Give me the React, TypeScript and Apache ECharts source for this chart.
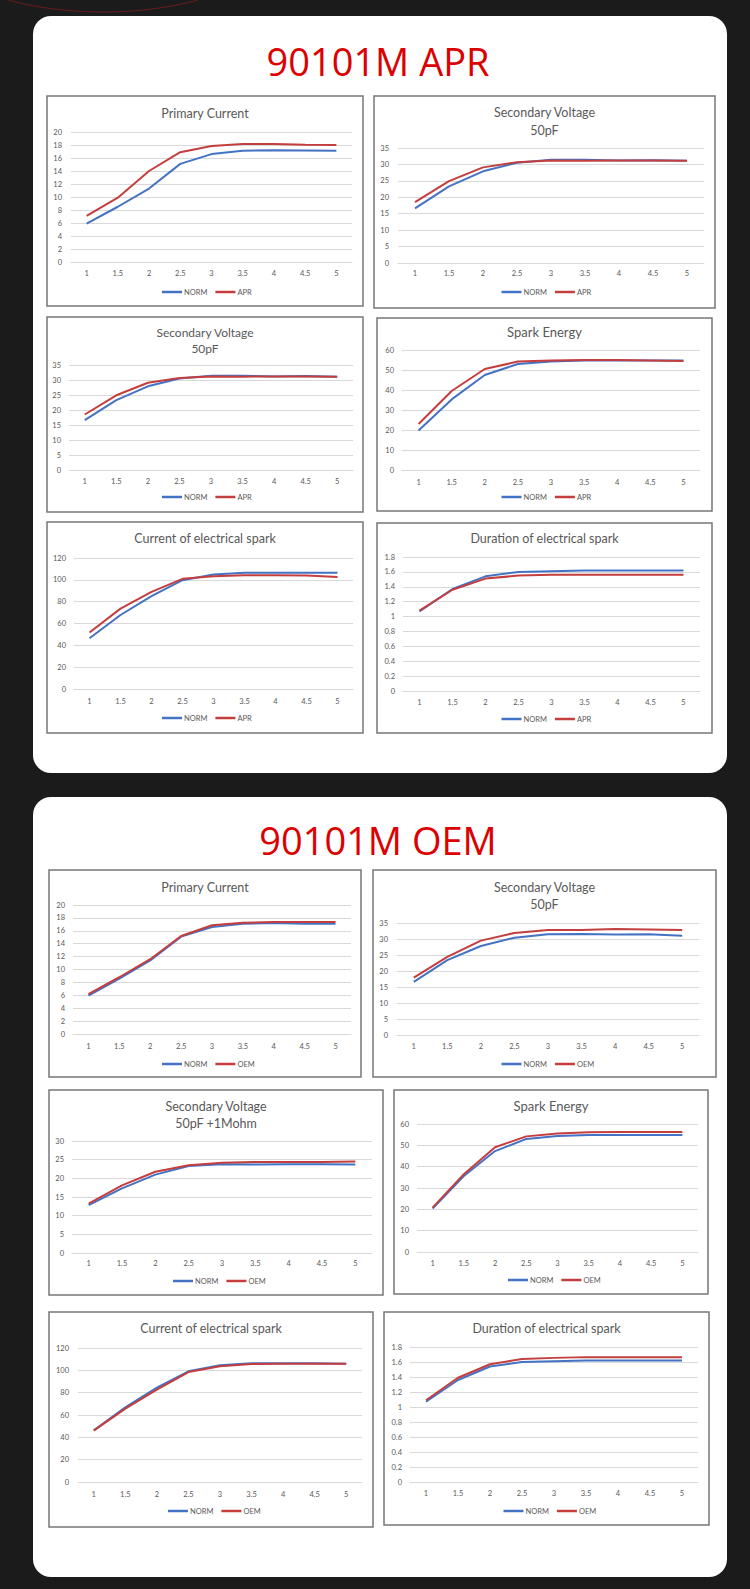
import React, { useEffect, useRef } from 'react';
import * as echarts from 'echarts';

// ---------- data ----------
const xCategories = ['1', '1.5', '2', '2.5', '3', '3.5', '4', '4.5', '5'];

const aprPrimaryNorm = [5.9, 8.5, 11.3, 15.1, 16.6, 17.1, 17.2, 17.15, 17.1];
const aprPrimaryApr = [7.1, 9.9, 14.0, 16.9, 17.85, 18.15, 18.15, 18.05, 18.0];
const aprSecVNorm = [16.6, 23.3, 27.9, 30.5, 31.4, 31.4, 31.2, 31.3, 31.1];
const aprSecVApr = [18.5, 24.9, 29.1, 30.7, 31.2, 31.1, 31.2, 31.2, 31.1];
const aprSparkNorm = [19.8, 35.3, 47.5, 53.0, 54.3, 54.7, 54.8, 54.8, 54.8];
const aprSparkApr = [23.0, 39.5, 50.5, 54.2, 54.8, 55.0, 55.0, 54.8, 54.5];
const aprCurrentNorm = [46.5, 67.8, 85.1, 99.7, 104.8, 106.6, 106.6, 106.6, 106.4];
const aprCurrentApr = [51.7, 73.6, 89.0, 100.9, 103.3, 104.3, 104.3, 104.0, 102.7];
const aprDurationNorm = [1.07, 1.37, 1.54, 1.6, 1.61, 1.62, 1.62, 1.62, 1.62];
const aprDurationApr = [1.08, 1.36, 1.51, 1.55, 1.56, 1.56, 1.56, 1.56, 1.56];

const oemPrimaryNorm = [5.95, 8.6, 11.4, 15.1, 16.6, 17.1, 17.2, 17.1, 17.1];
const oemPrimaryOem = [6.2, 8.8, 11.6, 15.2, 16.85, 17.25, 17.35, 17.35, 17.35];
const oemSecVNorm = [16.6, 23.4, 27.8, 30.4, 31.5, 31.6, 31.4, 31.5, 31.0];
const oemSecVOem = [17.9, 24.4, 29.5, 31.9, 32.8, 32.8, 33.1, 33.0, 32.8];
const oemSecVRNorm = [12.8, 17.3, 21.0, 23.3, 23.8, 23.7, 23.8, 23.8, 23.7];
const oemSecVROem = [13.25, 18.1, 21.75, 23.5, 24.2, 24.4, 24.4, 24.4, 24.5];
const oemSparkNorm = [20.4, 35.6, 47.3, 53.0, 54.4, 54.9, 54.9, 54.9, 54.9];
const oemSparkOem = [20.8, 36.5, 49.1, 54.2, 55.6, 56.1, 56.3, 56.3, 56.3];
const oemCurrentNorm = [46.3, 66.9, 84.5, 99.1, 104.5, 106.3, 106.3, 106.3, 106.0];
const oemCurrentOem = [46.0, 65.7, 82.7, 98.5, 103.6, 105.7, 106.0, 106.0, 106.0];
const oemDurationNorm = [1.07, 1.36, 1.54, 1.6, 1.61, 1.62, 1.62, 1.62, 1.62];
const oemDurationOem = [1.09, 1.39, 1.57, 1.64, 1.655, 1.665, 1.665, 1.665, 1.665];

const panelTitles = ['90101M APR', '90101M OEM'];
const seriesNamesApr = ['NORM', 'APR'];
const seriesNamesOem = ['NORM', 'OEM'];

// y-axis scales [max, interval]
const yScalePrimary = [20, 2];
const yScaleSecV = [35, 5];
const yScaleSecVR = [30, 5];
const yScaleSpark = [60, 10];
const yScaleCurrent = [120, 20];
const yScaleDuration = [1.8, 0.2];

// ---------- layout ----------
const BLUE = '#4472C4';
const RED = '#C43E3E';
const GRAY_TXT = '#595959';
const GRID_LINE = '#d9d9d9';
const FONT = 'Lato, "Open Sans", sans-serif';

type ChartDef = {
  box: number[];
  titles: string[];
  titleYs: number[];
  titleSize?: number;
  grid: number[]; // l t r b
  labelRight: number;
  xLabelY: number;
  legendY: number;
  scale: number[];
  names: string[];
  a: number[];
  b: number[];
};

const charts: ChartDef[] = [
  { box: [47, 96, 363, 306], titles: ['Primary Current'], titleYs: [113], grid: [71, 132, 352, 262], labelRight: 62, xLabelY: 273, legendY: 293, scale: yScalePrimary, names: seriesNamesApr, a: aprPrimaryNorm, b: aprPrimaryApr },
  { box: [374, 96, 715, 308], titles: ['Secondary Voltage', '50pF'], titleYs: [112, 130], grid: [398, 148, 704, 263], labelRight: 389, xLabelY: 273, legendY: 293, scale: yScaleSecV, names: seriesNamesApr, a: aprSecVNorm, b: aprSecVApr },
  { box: [47, 317, 363, 512], titles: ['Secondary Voltage', '50pF'], titleYs: [332, 348], titleSize: 12, grid: [69, 365, 353, 470], labelRight: 61, xLabelY: 481, legendY: 498, scale: yScaleSecV, names: seriesNamesApr, a: aprSecVNorm, b: aprSecVApr },
  { box: [377, 318, 712, 511], titles: ['Spark Energy'], titleYs: [332], titleSize: 13, grid: [402, 350, 700, 470], labelRight: 394, xLabelY: 482, legendY: 498, scale: yScaleSpark, names: seriesNamesApr, a: aprSparkNorm, b: aprSparkApr },
  { box: [47, 522, 363, 733], titles: ['Current of electrical spark'], titleYs: [538], grid: [74, 558, 353, 689], labelRight: 66, xLabelY: 701, legendY: 719, scale: yScaleCurrent, names: seriesNamesApr, a: aprCurrentNorm, b: aprCurrentApr },
  { box: [377, 523, 712, 733], titles: ['Duration of electrical spark'], titleYs: [538], grid: [403, 557, 700, 691], labelRight: 395, xLabelY: 702, legendY: 720, scale: yScaleDuration, names: seriesNamesApr, a: aprDurationNorm, b: aprDurationApr },
  { box: [49, 870, 361, 1077], titles: ['Primary Current'], titleYs: [887], grid: [73, 905, 351, 1034], labelRight: 65, xLabelY: 1046, legendY: 1065, scale: yScalePrimary, names: seriesNamesOem, a: oemPrimaryNorm, b: oemPrimaryOem },
  { box: [373, 870, 716, 1077], titles: ['Secondary Voltage', '50pF'], titleYs: [887, 904], grid: [397, 923, 699, 1035], labelRight: 388, xLabelY: 1046, legendY: 1065, scale: yScaleSecV, names: seriesNamesOem, a: oemSecVNorm, b: oemSecVOem },
  { box: [49, 1090, 383, 1295], titles: ['Secondary Voltage', '50pF +1Mohm'], titleYs: [1106, 1123], grid: [72, 1141, 372, 1253], labelRight: 64, xLabelY: 1263, legendY: 1282, scale: yScaleSecVR, names: seriesNamesOem, a: oemSecVRNorm, b: oemSecVROem },
  { box: [394, 1090, 708, 1294], titles: ['Spark Energy'], titleYs: [1106], titleSize: 13, grid: [417, 1124, 698, 1252], labelRight: 409, xLabelY: 1263, legendY: 1281, scale: yScaleSpark, names: seriesNamesOem, a: oemSparkNorm, b: oemSparkOem },
  { box: [49, 1312, 373, 1527], titles: ['Current of electrical spark'], titleYs: [1328], grid: [78, 1348, 362, 1482], labelRight: 69, xLabelY: 1494, legendY: 1512, scale: yScaleCurrent, names: seriesNamesOem, a: oemCurrentNorm, b: oemCurrentOem },
  { box: [384, 1312, 709, 1525], titles: ['Duration of electrical spark'], titleYs: [1328], grid: [410, 1347, 698, 1482], labelRight: 402, xLabelY: 1493, legendY: 1512, scale: yScaleDuration, names: seriesNamesOem, a: oemDurationNorm, b: oemDurationOem },
];

const panels = [
  { x: 33, y: 16, w: 694, h: 757, titleY: 61 },
  { x: 33, y: 797, w: 694, h: 780, titleY: 840 },
];

function buildOption() {
  const graphic: any[] = [];
  graphic.push({
    type: 'ellipse',
    z: -30,
    shape: { cx: 103, cy: -68, rx: 180, ry: 80 },
    style: { fill: 'none', stroke: '#6a1c1c', lineWidth: 1 },
  });
  panels.forEach((p, i) => {
    graphic.push({
      type: 'rect',
      z: -20,
      shape: { x: p.x, y: p.y, width: p.w, height: p.h, r: 18 },
      style: { fill: '#ffffff' },
    });
    graphic.push({
      type: 'text',
      z: 5,
      x: p.x + p.w / 2 - 2,
      y: p.titleY,
      style: {
        text: panelTitles[i],
        fill: '#dd0000',
        fontSize: 38,
        fontFamily: '"Open Sans", sans-serif',
        align: 'center',
        verticalAlign: 'middle',
      },
    });
  });

  const grid: any[] = [];
  const xAxis: any[] = [];
  const yAxis: any[] = [];
  const series: any[] = [];
  const legend: any[] = [];

  charts.forEach((c, i) => {
    const [bx1, by1, bx2, by2] = c.box;
    const cx = (bx1 + bx2) / 2;
    graphic.push({
      type: 'rect',
      z: -10,
      shape: { x: bx1, y: by1, width: bx2 - bx1, height: by2 - by1 },
      style: { fill: '#ffffff', stroke: '#777777', lineWidth: 1.5 },
    });
    c.titles.forEach((t, k) => {
      graphic.push({
        type: 'text',
        z: 5,
        x: cx,
        y: c.titleYs[k],
        style: {
          text: t,
          fill: GRAY_TXT,
          fontSize: c.titleSize || 12.5,
          fontFamily: FONT,
          align: 'center',
          verticalAlign: 'middle',
        },
      });
    });
    const [l, t, r, b] = c.grid;
    grid.push({ left: l, top: t, width: r - l, height: b - t, containLabel: false });
    xAxis.push({
      type: 'category',
      gridIndex: i,
      data: xCategories,
      boundaryGap: true,
      axisLine: { show: true, lineStyle: { color: GRID_LINE, width: 1 } },
      axisTick: { show: false },
      splitLine: { show: false },
      axisLabel: {
        fontSize: 7.5,
        color: GRAY_TXT,
        fontFamily: FONT,
        margin: c.xLabelY - b - 4,
        interval: 0,
      },
    });
    yAxis.push({
      type: 'value',
      gridIndex: i,
      min: 0,
      max: c.scale[0],
      interval: c.scale[1],
      axisLine: { show: false },
      axisTick: { show: false },
      splitLine: { show: true, lineStyle: { color: GRID_LINE, width: 1 } },
      axisLabel: {
        fontSize: 7.5,
        color: GRAY_TXT,
        fontFamily: FONT,
        margin: l - c.labelRight,
      },
    });
    series.push({
      type: 'line',
      name: c.names[0],
      xAxisIndex: i,
      yAxisIndex: i,
      data: c.a,
      symbol: 'none',
      showSymbol: false,
      lineStyle: { color: BLUE, width: 2 },
      itemStyle: { color: BLUE },
      z: 3,
    });
    series.push({
      type: 'line',
      name: c.names[1],
      xAxisIndex: i,
      yAxisIndex: i,
      data: c.b,
      symbol: 'none',
      showSymbol: false,
      lineStyle: { color: RED, width: 2 },
      itemStyle: { color: RED },
      z: 4,
    });
    legend.push({
      data: c.names,
      left: cx - 43,
      top: c.legendY - 5,
      orient: 'horizontal',
      icon: 'rect',
      itemWidth: 20,
      itemHeight: 2.5,
      itemGap: 8,
      selectedMode: false,
      padding: 0,
      textStyle: { fontSize: 7.5, color: GRAY_TXT, fontFamily: FONT, padding: [0, 0, 0, -3] },
    });
  });

  return {
    animation: false,
    backgroundColor: '#1b1b1b',
    graphic: { elements: graphic },
    grid,
    xAxis,
    yAxis,
    series,
    legend,
    tooltip: { show: false },
  };
}

export default function App() {
  const ref = useRef<HTMLDivElement>(null);
  useEffect(() => {
    const chart = echarts.init(ref.current as HTMLDivElement, null, {
      renderer: 'svg',
      width: 750,
      height: 1589,
    });
    chart.setOption(buildOption() as any);
    return () => chart.dispose();
  }, []);
  return (
    <div
      ref={ref}
      style={{ position: 'absolute', left: 0, top: 0, width: 750, height: 1589 }}
    />
  );
}
